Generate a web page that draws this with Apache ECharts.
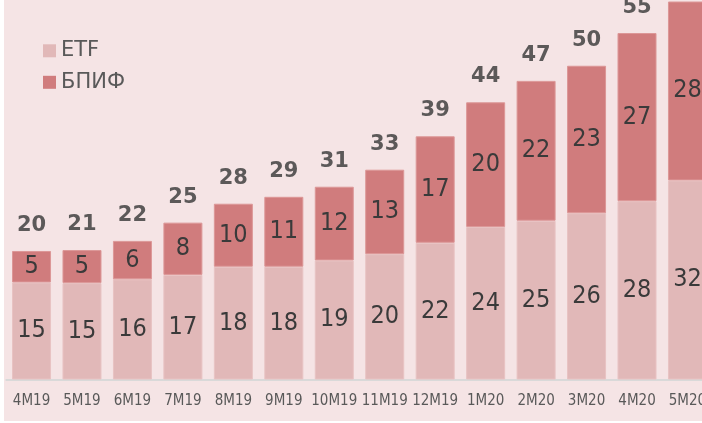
<!DOCTYPE html>
<html>
<head>
<meta charset="utf-8">
<script src="https://cdn.jsdelivr.net/npm/echarts@6/dist/echarts.min.js"></script>
<style>
html,body{margin:0;padding:0;background:#ffffff;overflow:hidden;width:702px;height:423px;position:relative;}
#chart{position:absolute;left:0;top:-30px;width:730px;height:453px;}
</style>
</head>
<body>
<div id="chart"></div>
<script>
const categories = ['4M19','5M19','6M19','7M19','8M19','9M19','10M19','11M19','12M19','1M20','2M20','3M20','4M20','5M20'];
const etf  = [15.4, 15.3, 15.9, 16.6, 17.9, 17.9, 18.9, 19.9, 21.7, 24.2, 25.2, 26.4, 28.3, 31.6];
const bpif = [5.0, 5.25, 6.1, 8.3, 10.0, 11.1, 11.7, 13.4, 16.9, 19.8, 22.2, 23.4, 26.7, 28.4];
const totals = etf.map((v, i) => v + bpif[i]);
const seriesNames = ['ETF', 'БПИФ'];

const FONT_C = "'DejaVu Sans Condensed', 'DejaVu Sans', sans-serif";
const FONT = "'DejaVu Sans', sans-serif";
const chart = echarts.init(document.getElementById('chart'), null, {renderer: 'canvas'});
chart.setOption({
  animation: false,
  backgroundColor: '#ffffff',
  graphic: [{
    type: 'rect', z: -10, silent: true,
    shape: {x: 4, y: 30, width: 726, height: 421},
    style: {fill: '#f5e4e5'}
  }],
  legend: {
    orient: 'vertical', left: 43, top: 69.8, padding: 0,
    icon: 'rect', itemWidth: 13, itemHeight: 13, itemGap: 9.5,
    itemStyle: {borderWidth: 0},
    textStyle: {fontFamily: FONT, fontSize: 21, color: '#595959', lineHeight: 22},
    data: seriesNames
  },
  grid: {left: 6.3, right: 17.3, top: 6.3, bottom: 43.5, containLabel: false},
  xAxis: {
    type: 'category', data: categories,
    axisLine: {lineStyle: {color: '#d9d9d9', width: 2}},
    axisTick: {show: false},
    axisLabel: {fontFamily: FONT_C, fontSize: 15, color: '#595959', margin: 14, interval: 0}
  },
  yAxis: {type: 'value', min: 0, max: 64, show: false, splitLine: {show: false}},
  series: [
    {
      name: seriesNames[0], type: 'bar', stack: 'a', data: etf, barWidth: 39,
      itemStyle: {color: '#e1b8b8', borderColor: '#e8c3c3', borderWidth: 1},
      label: {show: true, position: 'inside', fontFamily: FONT_C, fontSize: 25, color: '#3a3a3a',
        formatter: p => Math.round(p.value)}
    },
    {
      name: seriesNames[1], type: 'bar', stack: 'a', data: bpif, barWidth: 39,
      itemStyle: {color: '#d07c7d', borderColor: '#dc9797', borderWidth: 1},
      label: {show: true, position: 'inside', fontFamily: FONT_C, fontSize: 25, color: '#3a3a3a',
        formatter: p => Math.round(p.value)}
    },
    {
      name: 'total', type: 'scatter', data: totals, symbolSize: 0, silent: true,
      label: {show: true, position: 'top', distance: 15, fontFamily: FONT, fontSize: 21, fontWeight: 'bold', color: '#363636',
        formatter: p => Math.round(p.value)}
    }
  ]
});
</script>
</body>
</html>
